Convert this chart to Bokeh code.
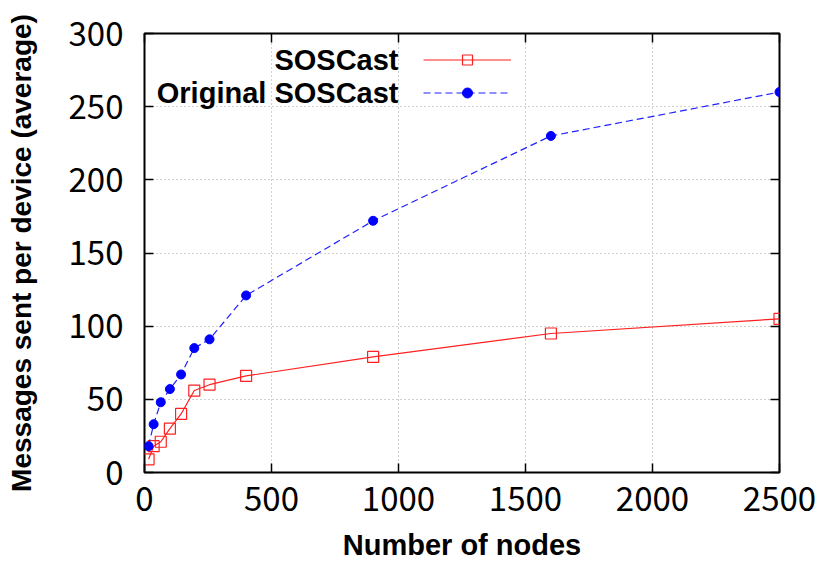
from bokeh.plotting import figure
from bokeh.models import (Range1d, LinearAxis, Legend, LegendItem, Label,
                          FixedTicker)
from bokeh.embed import file_html
from bokeh.resources import INLINE

# ---- data ----
nodes = [16, 36, 64, 100, 144, 196, 256, 400, 900, 1600, 2500]
soscast = [9, 18, 21, 30, 40, 56, 60, 66, 79, 95, 105]
original = [18, 33, 48, 57, 67, 85, 91, 121, 172, 230, 260]
x_ticks = [0, 500, 1000, 1500, 2000, 2500]
y_ticks = [0, 50, 100, 150, 200, 250, 300]
series_names = ["SOSCast", "Original SOSCast"]
x_title = "Number of nodes"
y_title = "Messages sent per device (average)"

TICK_FONT = "Noto Sans CJK JP"
BOLD_FONT = "Liberation Sans, Arial, sans-serif"

p = figure(width=822, height=564, output_backend="svg", toolbar_location=None,
           x_range=Range1d(0, 2500), y_range=Range1d(0, 300),
           min_border_left=144, min_border_right=43, min_border_top=33,
           min_border_bottom=92, background_fill_color="white",
           border_fill_color="white")

p.outline_line_color = "black"
p.outline_line_width = 2

for ax in (p.xaxis[0], p.yaxis[0]):
    ax.axis_line_color = None
    ax.major_tick_in = 9
    ax.major_tick_out = 0
    ax.minor_tick_line_color = None
    ax.major_tick_line_color = "black"
    ax.major_tick_line_width = 1.5
    ax.major_label_text_font = TICK_FONT
    ax.major_label_text_font_size = "33px"
    ax.major_label_text_color = "black"
    ax.axis_label_text_font = BOLD_FONT
    ax.axis_label_text_font_style = "bold"
    ax.axis_label_text_color = "black"

p.xaxis[0].axis_label_text_font_size = "29px"
p.yaxis[0].axis_label_text_font_size = "28px"
p.xaxis[0].ticker = FixedTicker(ticks=x_ticks)
p.yaxis[0].ticker = FixedTicker(ticks=y_ticks)
p.xaxis[0].axis_label = x_title
p.yaxis[0].axis_label = y_title
p.xaxis[0].major_label_standoff = 14
p.yaxis[0].major_label_standoff = 21
p.xaxis[0].axis_label_standoff = 15
p.yaxis[0].axis_label_standoff = 29

# mirrored ticks on top and right
top_ax = LinearAxis(ticker=FixedTicker(ticks=x_ticks))
right_ax = LinearAxis(ticker=FixedTicker(ticks=y_ticks))
for ax in (top_ax, right_ax):
    ax.axis_line_color = None
    ax.major_tick_in = 9
    ax.major_tick_out = 0
    ax.minor_tick_line_color = None
    ax.major_tick_line_color = "black"
    ax.major_tick_line_width = 1.5
    ax.major_label_text_font_size = "0px"
    ax.major_label_text_color = None
p.add_layout(top_ax, "above")
p.add_layout(right_ax, "right")

# grid
for g in (p.xgrid[0], p.ygrid[0]):
    g.grid_line_color = "#999999"
    g.grid_line_dash = "1 3"
    g.grid_line_width = 1
    g.grid_line_alpha = 0.9
p.xgrid[0].ticker = FixedTicker(ticks=x_ticks)
p.ygrid[0].ticker = FixedTicker(ticks=y_ticks)

# series
red_line = p.line(nodes, soscast, line_color="#ff2020", line_width=1.2)
red_pts = p.scatter(nodes, soscast, marker="square", size=11,
                    line_color="#ff2020", line_width=1.2, fill_color=None)
blue_line = p.line(nodes, original, line_color="#2020ff", line_width=1.2,
                   line_dash="7 4")
blue_pts = p.scatter(nodes, original, marker="circle", size=9,
                     line_color="#0000ff", fill_color="#0000ff")

# legend samples (glyphs) with labels drawn to their left
legend = Legend(items=[LegendItem(label=" ", renderers=[red_line, red_pts]),
                       LegendItem(label=" ", renderers=[blue_line, blue_pts])],
                location=(279, 367), glyph_width=88, glyph_height=25,
                label_height=25, label_width=0, label_standoff=0,
                label_text_font_size="1px", padding=0, margin=0, spacing=8,
                border_line_color=None, background_fill_alpha=0)
p.add_layout(legend)

for name, ys in zip(series_names, (413, 380)):
    p.add_layout(Label(x=254, y=ys, x_units="screen", y_units="screen",
                       text=name, text_align="right", text_baseline="middle",
                       text_font=BOLD_FONT, text_font_style="bold",
                       text_font_size="29px", text_color="black"))

open("out.html", "w").write(file_html(p, INLINE))
